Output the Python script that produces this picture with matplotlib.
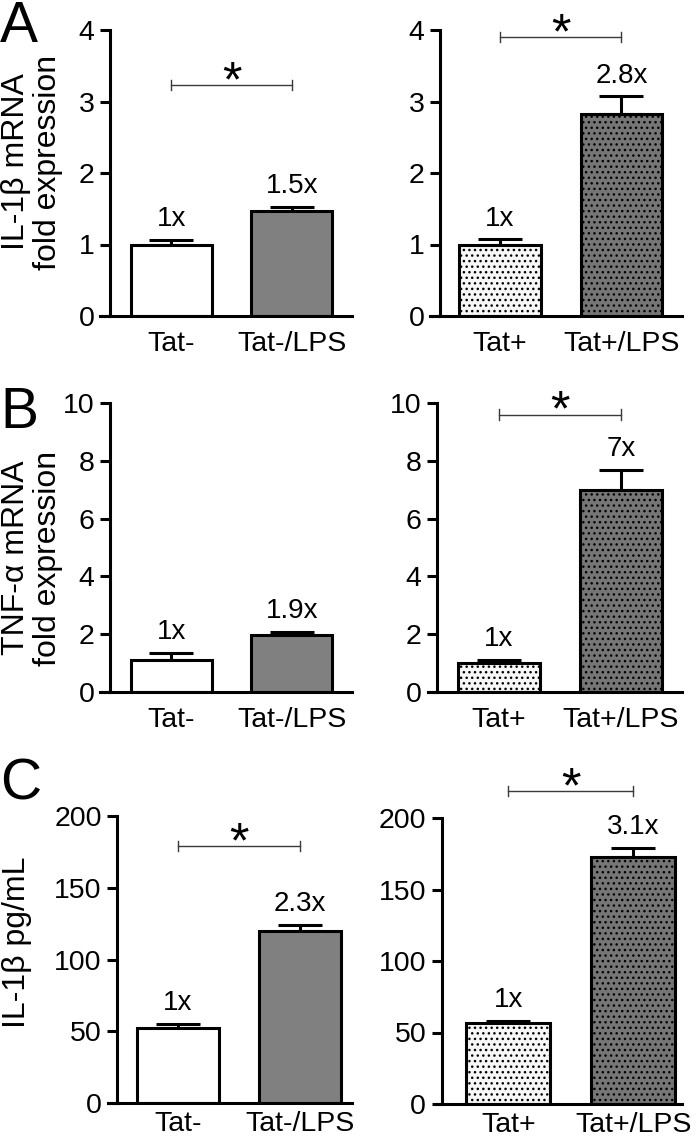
import matplotlib

matplotlib.use("Agg")
import matplotlib.pyplot as plt
import numpy as np

plt.rcParams["font.family"] = ["Liberation Sans", "DejaVu Sans"]
plt.rcParams["hatch.linewidth"] = 1.0
plt.rcParams["hatch.color"] = "black"

W, H = 697, 1140

# ---- data ----
labels_neg = ["Tat-", "Tat-/LPS"]
labels_pos = ["Tat+", "Tat+/LPS"]

il1b_mrna_neg = [1.00, 1.47]
il1b_mrna_neg_err = [0.06, 0.06]
il1b_mrna_neg_fold = ["1x", "1.5x"]
il1b_mrna_pos = [1.00, 2.82]
il1b_mrna_pos_err = [0.07, 0.25]
il1b_mrna_pos_fold = ["1x", "2.8x"]

tnf_mrna_neg = [1.10, 1.96]
tnf_mrna_neg_err = [0.25, 0.12]
tnf_mrna_neg_fold = ["1x", "1.9x"]
tnf_mrna_pos = [1.02, 7.00]
tnf_mrna_pos_err = [0.09, 0.69]
tnf_mrna_pos_fold = ["1x", "7x"]

il1b_pg_neg = [52.5, 120.0]
il1b_pg_neg_err = [2.5, 4.0]
il1b_pg_neg_fold = ["1x", "2.3x"]
il1b_pg_pos = [56.5, 173.0]
il1b_pg_pos_err = [1.8, 6.3]
il1b_pg_pos_fold = ["1x", "3.1x"]

# significance bracket heights (data units), None = no bracket
sig_A = [3.23, 3.90]
sig_B = [None, 9.60]
sig_C = [179.0, 219.0]

# ---- styles ----
FILL_NEG = ["white", "#808080"]
FILL_POS = ["#f7f7f7", "#767676"]
HATCH_NEG = [None, None]
HATCH_POS = ["...", "..."]
LW = 2.2
FS_TICK = 20.5
FS_VAL = 20
FS_YLAB = 23


def px_axes(fig, left, right, top, bottom):
    return fig.add_axes([left / W, 1 - bottom / H, (right - left) / W, (bottom - top) / H])


def draw_panel(ax, vals, errs, folds, labels, fills, hatches, ymax, step,
               xlim, spine_x, sig_y, xpad=11):
    x = np.arange(len(vals))
    ax.errorbar(x, vals, yerr=[np.zeros(len(errs)), errs], fmt="none", ecolor="black",
                elinewidth=LW, capsize=15.5, capthick=LW, zorder=1)
    for xi, v, h, c in zip(x, vals, hatches, fills):
        ax.bar(xi, v, width=0.67, color=c, edgecolor="black", linewidth=LW,
               hatch=h, zorder=2)
    for xi, v, e, f in zip(x, vals, errs, folds):
        ax.annotate(f, (xi, v + e), xytext=(0, 10), textcoords="offset points",
                    ha="center", va="baseline", fontsize=FS_VAL)

    ticks = np.arange(0, ymax + step / 2, step)
    ax.set_xlim(*xlim)
    ax.set_ylim(0, ymax)
    ax.set_yticks(ticks)
    ax.set_yticklabels([f"{t:g}" for t in ticks])
    ax.set_xticks(x)
    ax.set_xticklabels(labels)
    for s in ("top", "right"):
        ax.spines[s].set_visible(False)
    ax.spines["left"].set_position(("data", spine_x))
    for s in ("left", "bottom"):
        ax.spines[s].set_linewidth(LW)
    ax.tick_params(axis="y", length=7, width=LW, pad=4, labelsize=FS_TICK)
    ax.tick_params(axis="x", length=0, pad=xpad, labelsize=FS_TICK)
    ax.patch.set_visible(False)

    if sig_y is not None:
        cap = 0.018 * ymax
        kw = dict(color="#3a3a3a", lw=1.0, clip_on=False, zorder=3)
        ax.plot([0, 1], [sig_y, sig_y], **kw)
        ax.plot([0, 0], [sig_y - cap, sig_y + cap], **kw)
        ax.plot([1, 1], [sig_y - cap, sig_y + cap], **kw)
        ax.annotate("*", (0.5, sig_y), xytext=(0, -8), textcoords="offset points",
                    ha="center", va="baseline", fontsize=36, annotation_clip=False)


fig = plt.figure(figsize=(W / 100, H / 100), dpi=100)

# panel A
ax = px_axes(fig, 100, 352, 30, 316)
draw_panel(ax, il1b_mrna_neg, il1b_mrna_neg_err, il1b_mrna_neg_fold, labels_neg,
           FILL_NEG, HATCH_NEG, 4, 1, (-0.59, 1.50), -0.51, sig_A[0])
ax = px_axes(fig, 430, 682, 30, 316)
draw_panel(ax, il1b_mrna_pos, il1b_mrna_pos_err, il1b_mrna_pos_fold, labels_pos,
           FILL_POS, HATCH_POS, 4, 1, (-0.576, 1.498), -0.494, sig_A[1])

# panel B
ax = px_axes(fig, 100, 352, 403, 692)
draw_panel(ax, tnf_mrna_neg, tnf_mrna_neg_err, tnf_mrna_neg_fold, labels_neg,
           FILL_NEG, HATCH_NEG, 10, 2, (-0.59, 1.50), -0.51, sig_B[0])
ax = px_axes(fig, 428, 682, 403, 692)
draw_panel(ax, tnf_mrna_pos, tnf_mrna_pos_err, tnf_mrna_pos_fold, labels_pos,
           FILL_POS, HATCH_POS, 10, 2, (-0.58, 1.50), -0.508, sig_B[1])

# panel C
ax = px_axes(fig, 108, 352, 816, 1103)
draw_panel(ax, il1b_pg_neg, il1b_pg_neg_err, il1b_pg_neg_fold, labels_neg,
           FILL_NEG, HATCH_NEG, 200, 50, (-0.574, 1.426), -0.5, sig_C[0], xpad=6)
ax = px_axes(fig, 437, 682, 818, 1104)
draw_panel(ax, il1b_pg_pos, il1b_pg_pos_err, il1b_pg_pos_fold, labels_pos,
           FILL_POS, HATCH_POS, 200, 50, (-0.57, 1.39), -0.534, sig_C[1], xpad=6)

# y labels and panel letters
fig.text(32 / W, 1 - 162 / H, "IL-1β mRNA\nfold expression", rotation=90,
         ha="center", va="center", multialignment="center", fontsize=FS_YLAB,
         linespacing=1.1)
fig.text(32 / W, 1 - 558 / H, "TNF-α mRNA\nfold expression", rotation=90,
         ha="center", va="center", multialignment="center", fontsize=FS_YLAB,
         linespacing=1.1)
fig.text(17 / W, 1 - 942 / H, "IL-1β pg/mL", rotation=90,
         ha="center", va="center", fontsize=FS_YLAB)

for letter, yb in [("A", 42), ("B", 428), ("C", 799)]:
    fig.text(0, 1 - yb / H, letter, ha="left", va="baseline", fontsize=41)

fig.savefig("out.png", dpi=100)
